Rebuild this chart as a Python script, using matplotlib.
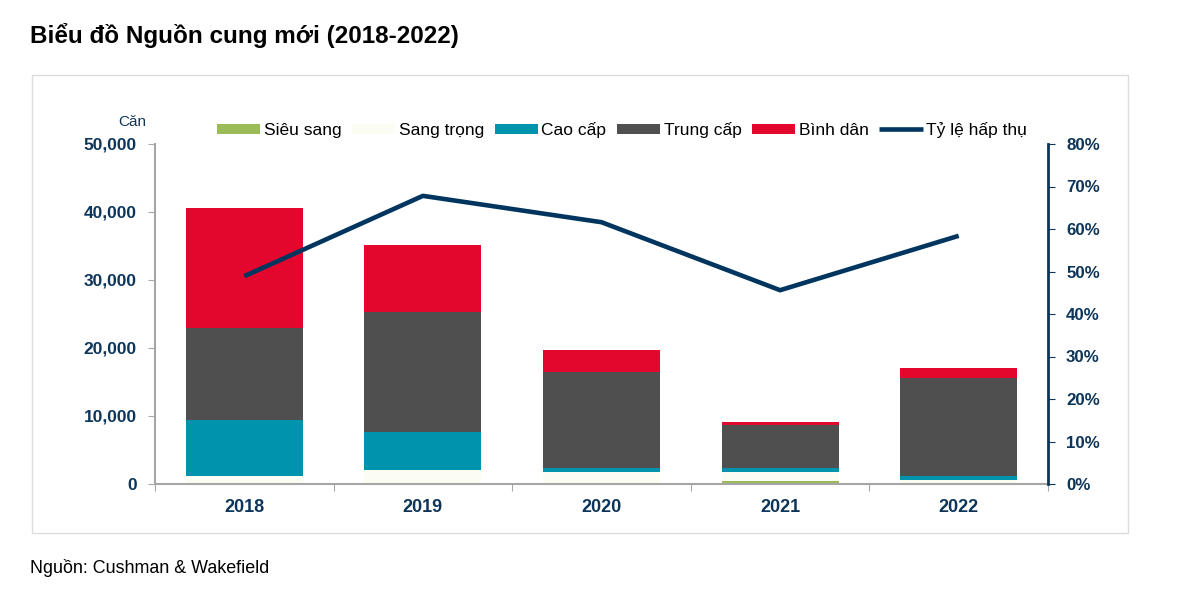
import matplotlib.pyplot as plt
import numpy as np
from matplotlib.patches import Rectangle
from matplotlib.ticker import FuncFormatter

plt.rcParams['font.family'] = ['Liberation Sans', 'DejaVu Sans']

years = ['2018', '2019', '2020', '2021', '2022']
sieu_sang = [0, 0, 0, 400, 0]
sang_trong = [1200, 2050, 1750, 1350, 600]
cao_cap = [8200, 5600, 600, 600, 600]
trung_cap = [13500, 17650, 14100, 6350, 14400]
binh_dan = [17700, 9850, 3200, 400, 1500]
ty_le = [0.489, 0.678, 0.616, 0.456, 0.584]

navy = '#0d3559'
series = [
    ('Siêu sang', sieu_sang, '#9bbb59'),
    ('Sang trọng', sang_trong, '#fbfcf2'),
    ('Cao cấp', cao_cap, '#0093ae'),
    ('Trung cấp', trung_cap, '#4f4f4f'),
    ('Bình dân', binh_dan, '#e4072d'),
]

fig = plt.figure(figsize=(11.82, 6), dpi=100)
fig.patches.append(Rectangle((32 / 1182, 1 - 533 / 600), 1096 / 1182, 458 / 600,
                             transform=fig.transFigure, fill=False,
                             edgecolor='#dcdcdc', linewidth=1))
ax = fig.add_axes([155 / 1182, 1 - 484 / 600, 893 / 1182, 340 / 600])
ax2 = ax.twinx()

x = np.arange(len(years))
bottom = np.zeros(len(years))
handles = []
for name, vals, col in series:
    b = ax.bar(x, vals, 0.655, bottom=bottom, color=col, label=name, zorder=2)
    bottom += np.array(vals)
    handles.append(b)

ln, = ax2.plot(x, ty_le, color='#00355f', linewidth=3.3, label='Tỷ lệ hấp thụ',
               solid_capstyle='butt')
handles.append(ln)

ax.set_xlim(-0.5, 4.5)
ax.set_ylim(0, 50000)
ax.set_yticks(range(0, 50001, 10000))
ax.yaxis.set_major_formatter(FuncFormatter(lambda v, p: f'{int(v):,}'))
ax2.set_ylim(0, 0.8)
ax2.set_yticks(np.arange(0, 0.81, 0.1))
ax2.yaxis.set_major_formatter(FuncFormatter(lambda v, p: f'{v * 100:.0f}%'))

ax.set_xticks(np.arange(-0.5, 5, 1), minor=False)
ax.set_xticklabels([])
ax.set_xticks(x, minor=True)
ax.set_xticklabels(years, minor=True)
ax.tick_params(axis='x', which='major', length=5, color='#a6a6a6')
ax.tick_params(axis='x', which='minor', length=0, pad=11, labelsize=13,
               labelcolor=navy)
for t in ax.get_xticklabels(minor=True):
    t.set_fontweight('bold')

ax.tick_params(axis='y', length=5, color='#a6a6a6', labelsize=12.5,
               labelcolor=navy, pad=8)
for t in ax.get_yticklabels():
    t.set_fontweight('bold')
ax2.tick_params(axis='y', length=5, color=navy, labelsize=12.2,
                labelcolor=navy, pad=8)
for t in ax2.get_yticklabels():
    t.set_fontweight('bold')

for a in (ax, ax2):
    a.spines['top'].set_visible(False)
ax.spines['right'].set_visible(False)
ax.spines['left'].set_color('#a6a6a6')
ax.spines['bottom'].set_color('#a6a6a6')
ax.spines['left'].set_linewidth(1.5)
ax.spines['bottom'].set_linewidth(1.5)
ax2.spines['left'].set_visible(False)
ax2.spines['bottom'].set_visible(False)
ax2.spines['right'].set_color(navy)
ax2.spines['right'].set_linewidth(2)

ax.text(-0.026, 1.045, 'Căn', transform=ax.transAxes, fontsize=11,
        color=navy, ha='center', va='bottom')

fig.legend(handles, [h.get_label() for h in handles], loc='center',
           bbox_to_anchor=(622 / 1182, 1 - 130 / 600), ncol=6, frameon=False,
           fontsize=12.5, handlelength=2.5, handleheight=0.5, handletextpad=0.2,
           columnspacing=0.6)

fig.text(30 / 1182, 1 - 35 / 600, 'Biểu đồ Nguồn cung mới (2018-2022)',
         fontsize=17.5, fontweight='bold', va='center', ha='left')
fig.text(30 / 1182, 1 - 568 / 600, 'Nguồn: Cushman & Wakefield',
         fontsize=12.9, va='center', ha='left')

fig.savefig('out.png', dpi=100)
